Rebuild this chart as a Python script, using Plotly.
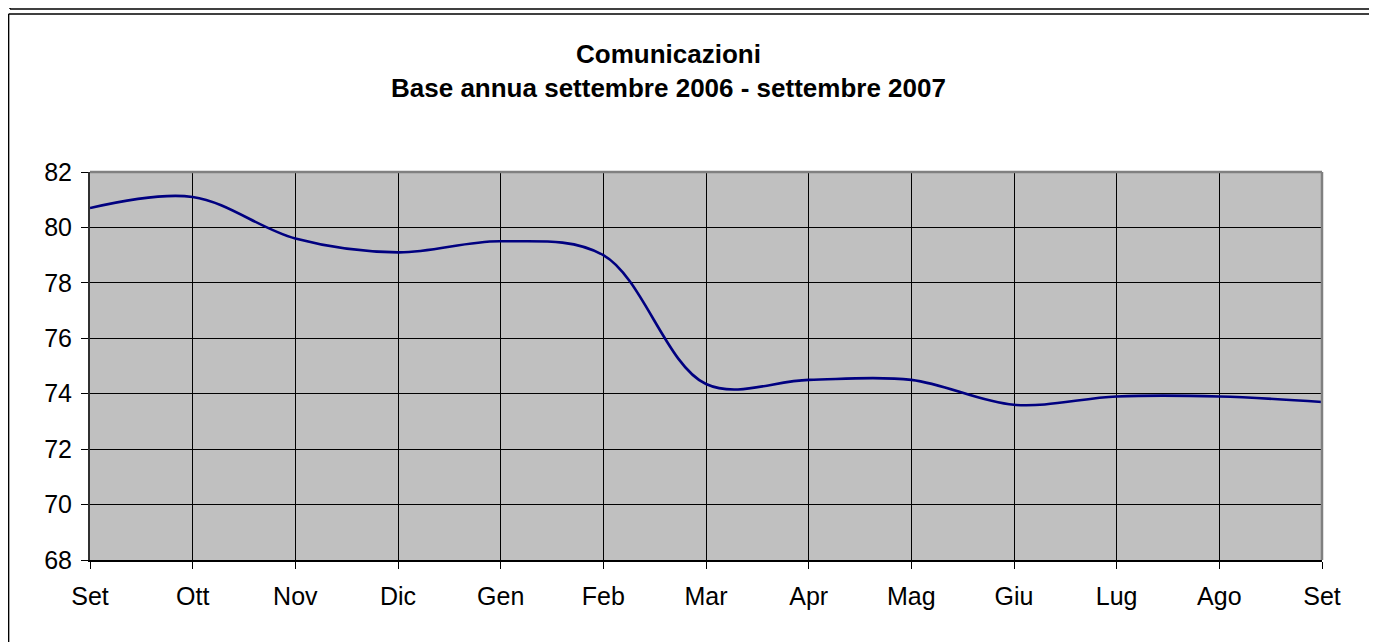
import plotly.graph_objects as go

# ---- data ----
months = ["Set", "Ott", "Nov", "Dic", "Gen", "Feb", "Mar", "Apr", "Mag", "Giu", "Lug", "Ago", "Set"]
values = [80.7, 81.1, 79.6, 79.1, 79.5, 79.0, 74.35, 74.5, 74.5, 73.6, 73.9, 73.9, 73.7]
y_ticks = [68, 70, 72, 74, 76, 78, 80, 82]
title_line1 = "Comunicazioni"
title_line2 = "Base annua settembre 2006 - settembre 2007"

# ---- layout geometry (page pixels; page body has an 8px margin) ----
OFF = 8
PAGE_W, PAGE_H = 1377, 642
W, H = PAGE_W - OFF, PAGE_H - OFF
PLOT_L, PLOT_R, PLOT_T, PLOT_B = 90, 1322, 172, 560   # plot area in page pixels
L = PLOT_L - OFF
T = PLOT_T - OFF
R = W - (PLOT_R - OFF)
B = H - (PLOT_B - OFF)
PW, PH = W - L - R, H - T - B

def px(x):  # page pixel -> paper x
    return (x - OFF - L) / PW

def py(y):  # page pixel -> paper y
    return 1 - (y - OFF - T) / PH

x_idx = list(range(len(months)))

fig = go.Figure()
fig.add_trace(go.Scatter(
    x=x_idx, y=values, mode="lines",
    line=dict(color="#000080", width=2.6, shape="spline", smoothing=1.0),
    hoverinfo="skip", showlegend=False,
))

font_family = "Liberation Sans, Arial, sans-serif"

fig.update_layout(
    width=W, height=H,
    margin=dict(l=L, r=R, t=T, b=B, pad=0),
    paper_bgcolor="white",
    plot_bgcolor="#C0C0C0",
    font=dict(family=font_family, size=25, color="black"),
    showlegend=False,
    xaxis=dict(
        range=[0, len(months) - 1],
        tickmode="array", tickvals=x_idx, ticktext=months,
        showgrid=True, gridcolor="#000000", gridwidth=1,
        ticks="outside", ticklen=7, tickcolor="#000000", tickwidth=1,
        showline=True, linecolor="#000000", linewidth=1.5,
        zeroline=False, fixedrange=True,
        ticklabelstandoff=6,
        tickfont=dict(size=25),
    ),
    yaxis=dict(
        range=[68, 82],
        tickmode="array", tickvals=y_ticks, ticktext=[str(v) for v in y_ticks],
        showgrid=True, gridcolor="#000000", gridwidth=1,
        ticks="outside", ticklen=7, tickcolor="#000000", tickwidth=1,
        showline=True, linecolor="#303030", linewidth=2,
        zeroline=False, fixedrange=True,
        ticklabelstandoff=4,
        tickfont=dict(size=25),
    ),
    shapes=[
        # plot area top/right border (grey)
        dict(type="line", xref="paper", yref="paper", x0=0, x1=1, y0=1, y1=1,
             line=dict(color="#808080", width=2.5), layer="above"),
        dict(type="line", xref="paper", yref="paper", x0=1, x1=1, y0=0, y1=1,
             line=dict(color="#808080", width=2.5), layer="above"),
        # upper chart box (bottom edge visible)
        dict(type="line", xref="paper", yref="paper", x0=px(10), x1=px(PAGE_W + 10), y0=py(9), y1=py(9),
             line=dict(color="#000000", width=1.5)),
        dict(type="line", xref="paper", yref="paper", x0=px(10), x1=px(10), y0=py(-10), y1=py(9),
             line=dict(color="#000000", width=1.5)),
        # this chart box
        dict(type="line", xref="paper", yref="paper", x0=px(8.6), x1=px(PAGE_W + 10), y0=py(14), y1=py(14),
             line=dict(color="#000000", width=1.5)),
        dict(type="line", xref="paper", yref="paper", x0=px(8.6), x1=px(8.6), y0=py(14), y1=py(PAGE_H + 10),
             line=dict(color="#000000", width=1.5)),
    ],
    annotations=[
        dict(text="<b>" + title_line1 + "</b>", xref="paper", yref="paper",
             x=px(668.5), y=py(54), xanchor="center", yanchor="middle",
             showarrow=False, font=dict(family=font_family, size=26, color="black")),
        dict(text="<b>" + title_line2 + "</b>", xref="paper", yref="paper",
             x=px(668.5), y=py(88), xanchor="center", yanchor="middle",
             showarrow=False, font=dict(family=font_family, size=26, color="black")),
    ],
)

fig.write_html("out.html")
